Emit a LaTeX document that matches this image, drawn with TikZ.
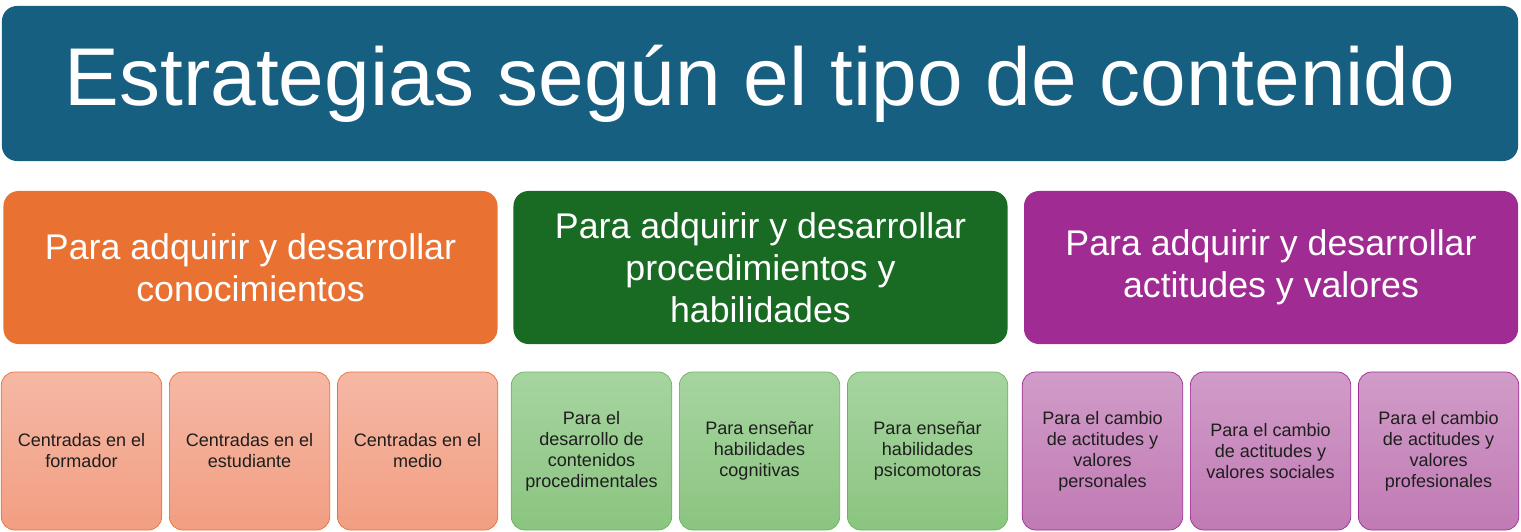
\documentclass[tikz,border=0pt]{standalone}
\usepackage{fontspec}
\setmainfont{Liberation Sans}
\usepackage{xcolor}
\definecolor{titleblue}{RGB}{22,95,128}
\definecolor{knoworange}{RGB}{233,113,50}
\definecolor{procgreen}{RGB}{25,107,36}
\definecolor{valpurple}{RGB}{160,43,147}
\definecolor{inktext}{RGB}{30,30,30}
\definecolor{orangetop}{RGB}{245,184,164}
\definecolor{orangebot}{RGB}{242,158,130}
\definecolor{greenline}{RGB}{108,180,92}
\definecolor{greentop}{RGB}{166,213,160}
\definecolor{greenbot}{RGB}{139,196,128}
\definecolor{purpletop}{RGB}{208,156,200}
\definecolor{purplebot}{RGB}{193,122,180}
\usepackage{tikz}
\usetikzlibrary{positioning}

\tikzset{
  headbox/.style={rounded corners=0.45cm, fill=#1, text=white, align=center,
    minimum width=14.82cm, minimum height=4.59cm, inner sep=0pt,
    font=\fontsize{30.5}{35.7}\selectfont},
  leafbox/.style={rounded corners=0.4cm, draw=#1, line width=0.6pt, align=center,
    minimum width=4.81cm, minimum height=4.74cm, inner sep=0pt, text=inktext,
    font=\fontsize{15.4}{18}\selectfont},
  leaforange/.style={leafbox=knoworange, top color=orangetop, bottom color=orangebot},
  leafgreen/.style={leafbox=greenline, top color=greentop, bottom color=greenbot},
  leafpurple/.style={leafbox=valpurple, top color=purpletop, bottom color=purplebot},
}

\begin{document}
\begin{tikzpicture}[x=0.03cm, y=-0.03cm]
  \useasboundingbox (0,0) rectangle (1521,531);
  % title
  \node[rounded corners=0.45cm, fill=titleblue, text=white, minimum width=45.48cm,
    minimum height=4.65cm, inner sep=0pt, font=\fontsize{70}{80}\selectfont]
    (title) at (760,83.5) {Estrategias según el tipo de contenido};
  % content types
  \node[headbox=knoworange] (know) at (250.5,267.5) {Para adquirir y desarrollar\\conocimientos};
  \node[headbox=procgreen] (proc) at (760.5,267.5) {Para adquirir y desarrollar\\procedimientos y\\habilidades};
  \node[headbox=valpurple] (val) at (1271,267.5) {Para adquirir y desarrollar\\actitudes y valores};
  % knowledge strategies
  \node[leaforange] (k1) at (81.5,451) {Centradas en el\\formador};
  \node[leaforange, right=0.21cm of k1] (k2) {Centradas en el\\estudiante};
  \node[leaforange, right=0.21cm of k2] (k3) {Centradas en el\\medio};
  % procedure strategies
  \node[leafgreen] (p1) at (591.5,451) {Para el\\desarrollo de\\contenidos\\procedimentales};
  \node[leafgreen, right=0.21cm of p1] (p2) {Para enseñar\\habilidades\\cognitivas};
  \node[leafgreen, right=0.21cm of p2] (p3) {Para enseñar\\habilidades\\psicomotoras};
  % value strategies
  \node[leafpurple] (v1) at (1102.5,451) {Para el cambio\\de actitudes y\\valores\\personales};
  \node[leafpurple, right=0.21cm of v1] (v2) {Para el cambio\\de actitudes y\\valores sociales};
  \node[leafpurple, right=0.21cm of v2] (v3) {Para el cambio\\de actitudes y\\valores\\profesionales};
\end{tikzpicture}
\end{document}
